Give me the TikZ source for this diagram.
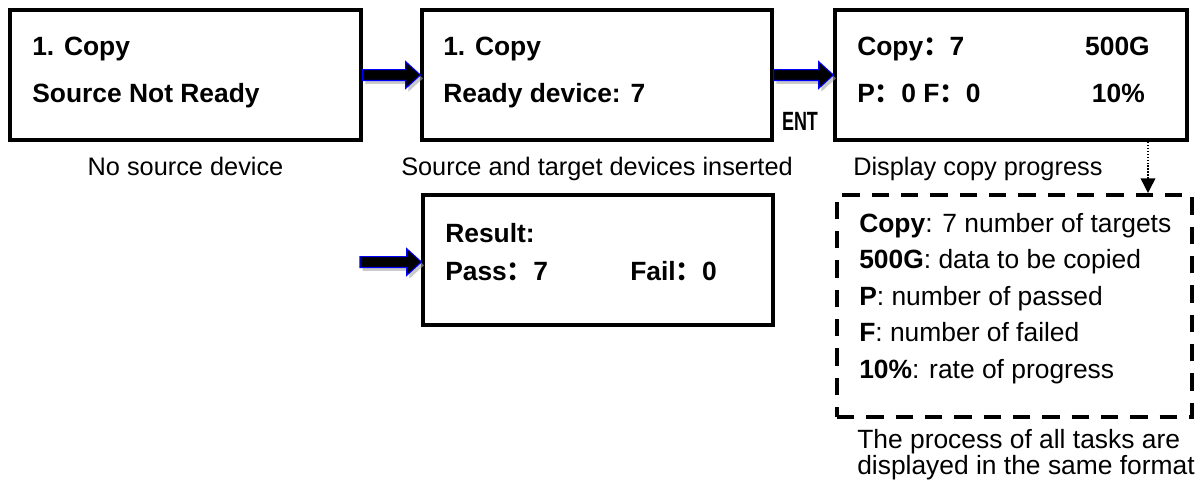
\documentclass[tikz,border=0pt]{standalone}
\usepackage{fontspec}
\setmainfont{Liberation Sans}
\newfontfamily\cjk{Noto Sans CJK SC}
\usetikzlibrary{arrows.meta,fit,shadows,calc}
\newcommand{\fwcolon}{{\cjk ：}}

\tikzset{
  screen/.style={draw, line width=2.4pt, inner sep=0pt},
  lcd/.style={font=\fontsize{19.8}{24}\selectfont\bfseries, inner sep=0pt, anchor=base west},
  caption/.style={font=\fontsize{19}{23}\selectfont, inner sep=0pt},
  notetext/.style={font=\fontsize{19.8}{24}\selectfont, inner sep=0pt, anchor=base west},
  notebox/.style={draw, line width=3pt, dash pattern=on 13pt off 9pt, inner sep=0pt},
  blockarrow/.style={draw=blue, fill=black, line width=0.8pt,
    drop shadow={shadow xshift=2pt, shadow yshift=-2.5pt, fill=black!35, opacity=0.6},
    to path={let \p1=(\tikztostart), \p2=(\tikztotarget) in
      (\x1,{\y1+4.1pt}) -- ({\x2-11pt},{\y1+4.1pt}) -- ({\x2-11pt},{\y1+10pt})
      -- (\x2,\y1) -- ({\x2-11pt},{\y1-10pt}) -- ({\x2-11pt},{\y1-4.1pt})
      -- (\x1,{\y1-4.1pt}) -- cycle}}
}

\begin{document}
\begin{tikzpicture}[x=0.75pt, y=-0.75pt]
  \useasboundingbox (0,0) rectangle (1200,482);

  % screens
  \node[screen, fit={(10,10) (361,140)}] (nosrc) {};
  \node[screen, fit={(422,10) (772,140)}] (ready) {};
  \node[screen, fit={(835,10) (1187,140)}] (progress) {};
  \node[screen, fit={(423,195) (773,325)}] (result) {};
  \node[notebox, fit={(837,195) (1192,417)}] (legend) {};

  % screen texts
  \node[lcd] (nosrc1) at (32,55) {1. Copy};
  \node[lcd] (nosrc2) at (32,102) {Source Not Ready};
  \node[lcd] (ready1) at (443,55) {1. Copy};
  \node[lcd] (ready2) at (443,102) {Ready device: 7};
  \node[lcd] (prog1) at (857,55) {Copy\fwcolon 7};
  \node[lcd, anchor=base east] (prog2) at (1150,55) {500G};
  \node[lcd] (prog3) at (857,102) {P\fwcolon 0 F\fwcolon 0};
  \node[lcd, anchor=base east] (prog4) at (1145,102) {10\%};
  \node[lcd] (res1) at (445,242) {Result:};
  \node[lcd] (res2) at (445,280) {Pass\fwcolon 7};
  \node[lcd] (res3) at (630,280) {Fail\fwcolon 0};
  \node[font=\fontsize{19.8}{24}\selectfont\bfseries, inner sep=0pt] (ent) at (800,121)
    {\scalebox{0.68}[1]{ENT}};

  % captions
  \node[caption, anchor=base] (cap1) at (185.5,175) {No source device};
  \node[caption, anchor=base] (cap2) at (597,175) {Source and target devices inserted};
  \node[caption, anchor=base west] (cap3) at (853,175) {Display copy progress};
  \node[notetext] (cap4) at (857,448) {The process of all tasks are};
  \node[notetext] (cap5) at (857,474) {displayed in the same format};

  % legend lines
  \foreach \y/\txt [count=\i] in {232/{\textbf{Copy}: 7 number of targets},
      268.5/{\textbf{500G}: data to be copied},
      305/{\textbf{P}: number of passed},
      341.5/{\textbf{F}: number of failed},
      378/{\textbf{10\%}: rate of progress}}
    \node[notetext] (legend\i) at (859,\y) {\txt};

  % arrows
  \coordinate (resin) at (360,262);
  \path[blockarrow] (nosrc.east) to (ready.west);
  \path[blockarrow] (ready.east) to (progress.west);
  \path[blockarrow] (resin) to (result.west);

  \coordinate (tap) at (1148,142);
  \draw[line width=1.1pt, dash pattern=on 1pt off 1.2pt, -{Triangle[width=11pt,length=11pt]}]
    (tap) -- (tap |- legend.north);
\end{tikzpicture}
\end{document}
